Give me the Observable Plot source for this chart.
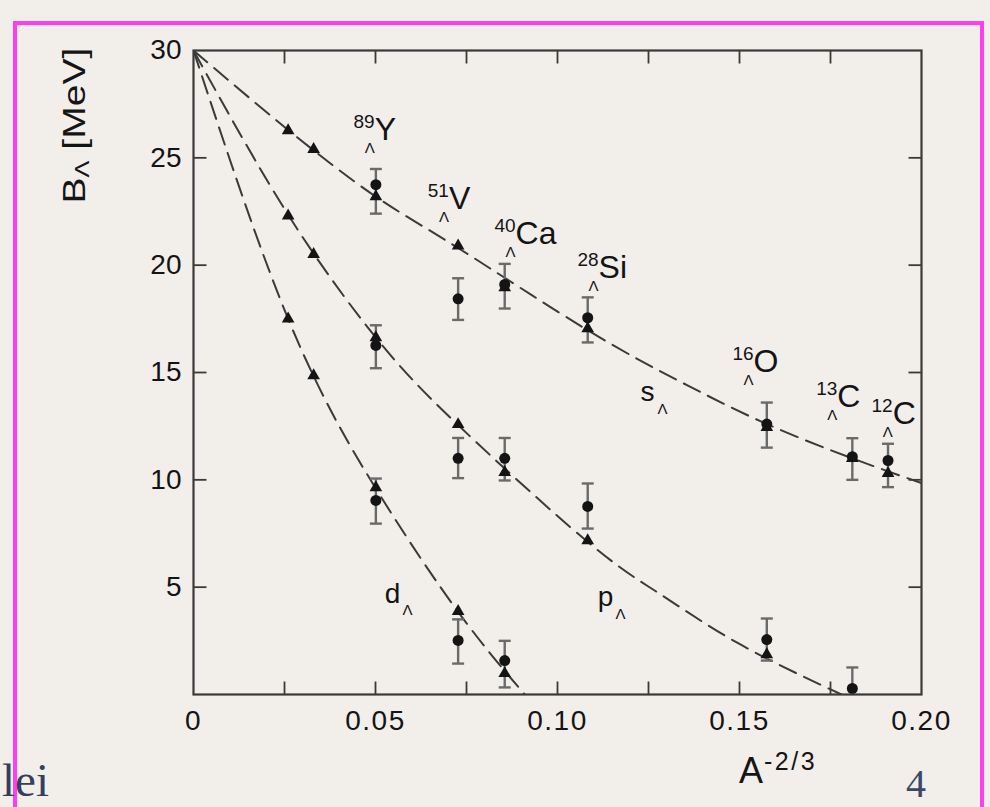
<!DOCTYPE html>
<html>
<head>
<meta charset="utf-8">
<script src="https://cdn.jsdelivr.net/npm/d3@7"></script>
<script src="https://cdn.jsdelivr.net/npm/@observablehq/plot@0.6"></script>
<style>
  html, body { margin: 0; padding: 0; width: 990px; height: 807px; overflow: hidden; background: #f2efea; }
  #wrap { position: relative; width: 990px; height: 807px; }
  #chart { position: absolute; left: 0; top: 0; }
  #border { position: absolute; left: 13px; top: 21px; width: 971px; height: 820px; border: 4px solid #ff3ef0; box-sizing: border-box; }
  .sans { font-family: "Liberation Sans", Arial, Helvetica, sans-serif; color: #151515; }
  #ytitle { position: absolute; left: 75px; top: 125px; white-space: nowrap; font-size: 31px; line-height: 1; }
  #ytitle .sub { font-size: 20px; position: relative; top: 4px; }
  #xtitle { position: absolute; left: 739px; top: 753px; white-space: nowrap; font-size: 36px; line-height: 1; }
  #xtitle .sup { font-size: 25px; position: relative; top: -13px; letter-spacing: 2.5px; margin-left: 1px; }
  .serif { font-family: "Liberation Serif", "DejaVu Serif", serif; color: #34405a; }
  #pagenum { position: absolute; left: 906px; top: 764px; font-size: 40px; line-height: 1; color: #3a4868; }
  #word { position: absolute; left: 2px; top: 757px; font-size: 47px; line-height: 1; white-space: nowrap; }
  g[aria-label="x-axis tick label"] text { letter-spacing: 1.5px; }
</style>
</head>
<body>
<div id="wrap">
  <div id="border"></div>
  <div id="chart"></div>
  <div id="ytitle" class="sans"><span>B</span><span class="sub">Λ</span><span> [MeV]</span></div>
  <div id="xtitle" class="sans">A<span class="sup">-2/3</span></div>
  <div id="word" class="serif">lei</div>
  <div id="pagenum" class="serif">4</div>
</div>
<script>
// ---------- data ----------
// nuclei (A^-2/3 positions)
const massNumbers = ["89", "51", "40", "28", "16", "13", "12"];
const elements    = ["Y", "V", "Ca", "Si", "O", "C", "C"];
const nucleusX    = [0.0501, 0.0727, 0.0855, 0.1083, 0.1575, 0.1810, 0.1908];

// measured binding energies (circles) with error bars, per shell
const sB  = [23.75, 18.43, 19.10, 17.55, 12.60, 11.08, 10.90];
const sLo = [22.40, 17.45, 17.98, 16.40, 11.50, 10.00, 9.66];
const sHi = [24.48, 19.39, 20.06, 18.50, 13.60, 11.94, 11.68];
const pB  = [16.26, 11.00, 11.00, 8.76, 2.56, 0.28, null];
const pLo = [15.20, 10.08, 9.97, 7.73, 1.58, -1.0, null];
const pHi = [17.20, 11.95, 11.95, 9.83, 3.54, 1.26, null];
const dB  = [9.04, 2.52, 1.58, null, null, null, null];
const dLo = [7.96, 1.44, 0.33, null, null, null, null];
const dHi = [10.06, 3.50, 2.50, null, null, null, null];

// calculated values (triangles)
const theoryX = [0.026, 0.033, 0.0501, 0.0727, 0.0855, 0.1083, 0.1575, 0.1810, 0.1908];
const theoryS = [26.27, 25.40, 23.20, 20.90, 18.95, 17.05, 12.45, 11.00, 10.30];
const theoryP = [22.30, 20.50, 16.63, 12.58, 10.35, 7.17, 1.86, null, null];
const theoryD = [17.50, 14.86, 9.64, 3.87, 0.98, null, null, null, null];

// dashed curves
const curveSX = [0, 0.026, 0.05, 0.0727, 0.108, 0.1357, 0.1575, 0.181, 0.2];
const curveSY = [30, 26.3, 23.2, 20.8, 17.0, 14.4, 12.6, 11.0, 9.85];
const curvePX = [0, 0.026, 0.05, 0.0727, 0.108, 0.128, 0.1495, 0.178];
const curvePY = [30, 22.35, 16.65, 12.55, 7.15, 4.7, 2.4, 0];
const curveDX = [0, 0.026, 0.05, 0.0727, 0.091];
const curveDY = [30, 17.5, 9.62, 3.85, 0];

// nucleus label anchors (centre of the Λ subscript)
const labelX = [0.0484, 0.0688, 0.0871, 0.1099, 0.1525, 0.1755, 0.1907];
const labelY = [25.43, 22.22, 20.59, 19.00, 14.63, 13.00, 12.20];

// shell labels
const shellNames  = ["s", "p", "d"];
const shellLabelX = [0.1247, 0.1132, 0.0547];
const shellLabelY = [14.07, 4.52, 4.70];

// axis ticks
const xTickLabels = [0, 0.05, 0.10, 0.15, 0.20];
const xTickMarks  = [0.025, 0.05, 0.075, 0.10, 0.125, 0.15, 0.175];
const yTickLabels = [5, 10, 15, 20, 25, 30];
const yTickMarks  = [5, 10, 15, 20, 25];

// ---------- build tables ----------
const measured = [];
[[sB, sLo, sHi], [pB, pLo, pHi], [dB, dLo, dHi]].forEach(([b, lo, hi]) => {
  nucleusX.forEach((x, i) => { if (b[i] != null) measured.push({x, b: b[i], lo: lo[i], hi: hi[i]}); });
});
const theory = [];
[theoryS, theoryP, theoryD].forEach(arr => {
  theoryX.forEach((x, i) => { if (arr[i] != null) theory.push({x, b: arr[i]}); });
});
const curve = (xs, ys) => xs.map((x, i) => ({x, b: ys[i]}));
const labels = massNumbers.map((m, i) => ({m, el: elements[i], x: labelX[i], y: labelY[i]}));
const shellLabels = shellNames.map((n, i) => ({n, x: shellLabelX[i], y: shellLabelY[i]}));

// custom symbols (pixel-sized strokes drawn at data anchors)
const sym = (fn) => ({draw(ctx) { fn(ctx); }});
const cap = sym(c => { c.moveTo(-6, 0); c.lineTo(6, 0); });
const tickUp = sym(c => { c.moveTo(0, 0); c.lineTo(0, -13); });
const tickDown = sym(c => { c.moveTo(0, 0); c.lineTo(0, 13); });
const tickRight = sym(c => { c.moveTo(0, 0); c.lineTo(13, 0); });
const tickLeft = sym(c => { c.moveTo(0, 0); c.lineTo(-13, 0); });

const dash = {stroke: "#3a3a3a", strokeWidth: 2, strokeDasharray: "18,9", curve: "natural", clip: true};
const ink = "#141414";
const barColor = "#6a6a6a";
const axisColor = "#3a3a3a";

const chart = Plot.plot({
  width: 990,
  height: 807,
  marginLeft: 193,
  marginRight: 69,
  marginTop: 50,
  marginBottom: 113,
  x: {domain: [0, 0.2]},
  y: {domain: [0, 30]},
  style: {background: "transparent", color: ink, fontFamily: "'Liberation Sans', Arial, Helvetica, sans-serif", overflow: "visible"},
  marks: [
    Plot.line(curve(curveSX, curveSY), {x: "x", y: "b", ...dash}),
    Plot.line(curve(curvePX, curvePY), {x: "x", y: "b", ...dash}),
    Plot.line(curve(curveDX, curveDY), {x: "x", y: "b", ...dash}),
    Plot.ruleX(measured, {x: "x", y1: d => Math.max(d.lo, 0), y2: "hi", stroke: barColor, strokeWidth: 2.4}),
    Plot.dot(measured.filter(d => d.lo >= 0), {x: "x", y: "lo", symbol: cap, fill: "none", stroke: barColor, strokeWidth: 2.4}),
    Plot.dot(measured, {x: "x", y: "hi", symbol: cap, fill: "none", stroke: barColor, strokeWidth: 2.4}),
    Plot.dot(theory, {x: "x", y: "b", symbol: "triangle", r: 4.7, fill: ink, stroke: "none"}),
    Plot.dot(measured, {x: "x", y: "b", r: 5.5, fill: ink, stroke: "none"}),
    Plot.frame({stroke: axisColor, strokeWidth: 2.2}),
    Plot.dot(xTickMarks, {x: d => d, y: () => 0, symbol: tickUp, fill: "none", stroke: axisColor, strokeWidth: 1.8}),
    Plot.dot(xTickMarks, {x: d => d, y: () => 30, symbol: tickDown, fill: "none", stroke: axisColor, strokeWidth: 1.8}),
    Plot.dot(yTickMarks, {x: () => 0, y: d => d, symbol: tickRight, fill: "none", stroke: axisColor, strokeWidth: 1.8}),
    Plot.dot(yTickMarks, {x: () => 0.2, y: d => d, symbol: tickLeft, fill: "none", stroke: axisColor, strokeWidth: 1.8}),
    Plot.axisX({ticks: xTickLabels, tickFormat: d => d === 0 ? "0" : d.toFixed(2), tickSize: 0, tickPadding: 16, fontSize: 28, label: null}),
    Plot.axisY({ticks: yTickLabels, tickFormat: d => String(d), tickSize: 0, tickPadding: 12, fontSize: 28, label: null}),
    // nucleus labels: mass number, element, Λ subscript
    Plot.text(labels, {x: "x", y: "y", text: () => "Λ", fontSize: 15, fill: ink}),
    Plot.text(labels, {x: "x", y: "y", text: "m", fontSize: 19, textAnchor: "end", dx: 5, dy: -27, fill: ink}),
    Plot.text(labels, {x: "x", y: "y", text: "el", fontSize: 32, textAnchor: "start", dx: 5, dy: -19, fill: ink}),
    // shell labels
    Plot.text(shellLabels, {x: "x", y: "y", text: "n", fontSize: 28, fill: ink}),
    Plot.text(shellLabels, {x: "x", y: "y", text: () => "Λ", fontSize: 15, dx: 15, dy: 17, fill: ink})
  ]
});
document.getElementById("chart").appendChild(chart);

// vertical axis title: rotate and stretch to span the reference extent
const yt = document.getElementById("ytitle");
const w = yt.getBoundingClientRect().width;
const h = yt.getBoundingClientRect().height;
const targetLen = 156;
yt.style.left = (75 - w / 2) + "px";
yt.style.top = (125 - h / 2) + "px";
yt.style.transform = `rotate(-90deg) scaleX(${targetLen / w})`;
</script>
</body>
</html>
